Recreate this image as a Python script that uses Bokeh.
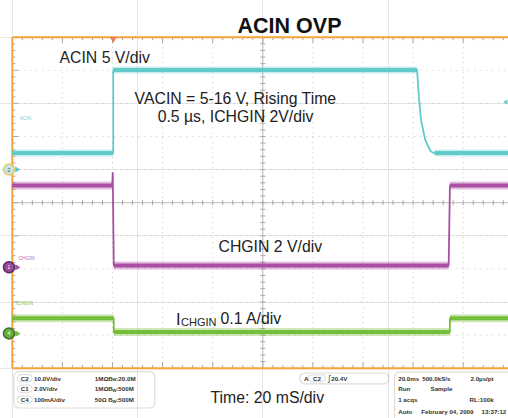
import numpy as np
from bokeh.plotting import figure
from bokeh.models import Range1d, Label, BoxAnnotation, ColumnDataSource
from bokeh.core.properties import value
from bokeh.embed import file_html
from bokeh.resources import INLINE

# ---------------- data ----------------
TIME_PER_DIV = 20.0          # ms / div
TRIGGER_TIME = [40.3]        # ms
TRIGGER_LEVEL = [20.4]       # V on C2 (ACIN)

# C2 : ACIN, 10 V/div, ground marker 6.0 div above graticule bottom
ACIN_SCALE = 10.0
ACIN_GROUND = 6.0
ACIN_T = [0.0, 40.3, 40.3, 161.6, 162.3, 163.2, 164.9, 166.9, 167.7, 168.6, 199.5]
ACIN_V = [5.0, 5.0, 30.1, 30.1, 21.9, 14.8, 8.8, 5.7, 5.2, 5.0, 5.0]

# C1 : CHGIN, 2 V/div
CHGIN_SCALE = 2.0
CHGIN_GROUND = 3.05
CHGIN_T = [0.0, 39.9, 40.1, 40.5, 174.2, 174.7, 199.5]
CHGIN_V = [4.94, 4.94, 5.74, 0.10, 0.10, 4.94, 4.94]

# C4 : ICHGIN, 100 mA/div
ICHGIN_SCALE = 0.1
ICHGIN_GROUND = 1.05
ICHGIN_T = [0.0, 40.5, 40.5, 174.7, 174.7, 199.5]
ICHGIN_A = [0.046, 0.046, 0.004, 0.004, 0.046, 0.046]

CH_NAMES = ["C2", "C1", "C4"]
CH_SCALES = ["10.0V/div", "2.0V/div", "100mA/div"]
CH_IMPEDANCE = ["1M\u03a9", "1M\u03a9", "50\u03a9"]
CH_BW = [":20.0M", ":500M", ":500M"]
TRIG_TEXT = "20.4V"
ACQ_TEXT = ["20.0ms", "500.0kS/s", "2.0\u00b5s/pt", "Run", "Sample", "1 acqs",
            "RL:100k", "Auto", "February 04, 2009", "13:37:12"]

# ---------------- layout ----------------
W, H = 508, 418
OX, OY = 0, 0              # page position of the canvas
GX, GB = 11.8, 367.7       # page px of graticule left / bottom
DX, DY = 50.1, 33.1        # px per division
X0 = (OX - GX) / DX * TIME_PER_DIV
X1 = X0 + W / DX * TIME_PER_DIV
Y1 = (GB - OY) / DY
Y0 = Y1 - H / DY


def tx(px):
    return (px - GX) / DX * TIME_PER_DIV


def ty(py):
    return (GB - py) / DY


CYAN = "#62caca"
MAGENTA = "#aa4ea2"
GREEN = "#74be3a"
ORANGE = "#f5a43c"
TICK = "#a8a8a8"
FONT = "Liberation Sans"

p = figure(width=W, height=H, x_range=Range1d(X0, X1), y_range=Range1d(Y0, Y1),
           min_border=0, toolbar_location=None, output_backend="svg",
           x_axis_location=None, y_axis_location=None)
p.outline_line_color = None
p.background_fill_color = "white"
p.border_fill_color = "white"


def chan_range(gnd, scale):
    return Range1d((Y0 - gnd) * scale, (Y1 - gnd) * scale)


p.extra_y_ranges = {
    "acin": chan_range(ACIN_GROUND, ACIN_SCALE),
    "chgin": chan_range(CHGIN_GROUND, CHGIN_SCALE),
    "ichgin": chan_range(ICHGIN_GROUND, ICHGIN_SCALE),
}

# ---------------- graticule ----------------
NDX, NDY = 10, 10
kx = [k for k in range(1, NDX) if k != 5]
ky = [k for k in range(1, NDY) if k != 5]
p.segment(x0=[k * TIME_PER_DIV for k in kx], y0=[0] * len(kx),
          x1=[k * TIME_PER_DIV for k in kx], y1=[NDY] * len(kx),
          line_color="#c6c6c6", line_width=1, line_dash="1 4")
p.segment(x0=[0] * len(ky), y0=ky, x1=[NDX * TIME_PER_DIV] * len(ky), y1=ky,
          line_color="#c6c6c6", line_width=1, line_dash="1 5")
# centre cross
p.segment(x0=[5 * TIME_PER_DIV, 0], y0=[0, 5], x1=[5 * TIME_PER_DIV, NDX * TIME_PER_DIV],
          y1=[NDY, 5], line_color="#bcbcbc", line_width=1)
minor_y = np.round(np.arange(1, NDY * 5) * 0.2, 3)
minor_x = np.arange(1, NDX * 5) * TIME_PER_DIV / 5
hx = 2.5 / DX * TIME_PER_DIV
hy = 2.5 / DY
p.segment(x0=5 * TIME_PER_DIV - hx, y0=minor_y, x1=5 * TIME_PER_DIV + hx, y1=minor_y,
          line_color=TICK, line_width=1)
p.segment(x0=minor_x, y0=5 - hy, x1=minor_x, y1=5 + hy, line_color=TICK, line_width=1)
# border ticks
is_major_y = np.isclose(minor_y % 1, 0)
len_y = np.where(is_major_y, 6, 3) / DX * TIME_PER_DIV
p.segment(x0=0, y0=minor_y, x1=len_y, y1=minor_y, line_color=TICK, line_width=1)
is_major_x = np.isclose((minor_x / TIME_PER_DIV) % 1, 0)
len_x = np.where(is_major_x, 6, 3) / DY
p.segment(x0=minor_x, y0=NDY, x1=minor_x, y1=NDY - len_x, line_color=TICK, line_width=1)
p.segment(x0=minor_x, y0=0, x1=minor_x, y1=len_x, line_color=TICK, line_width=1)
# orange frame (left, top, bottom)
p.segment(x0=[0, 0, 0], y0=[0, NDY, 0], x1=[0, X1, X1], y1=[NDY, NDY, 0],
          line_color=ORANGE, line_width=2)


# ---------------- traces ----------------
def draw_trace(t, v, rname, scale, color, fringe_px=8, core_px=4):
    t = np.asarray(t, float)
    v = np.asarray(v, float)
    flat = np.isclose(v[:-1], v[1:])
    left, right, mid = t[:-1][flat], t[1:][flat], v[:-1][flat]
    hf = fringe_px / 2 / DY * scale
    hc = core_px / 2 / DY * scale
    p.quad(left=left, right=right, bottom=mid - hf, top=mid + hf, fill_color=color,
           fill_alpha=0.35, line_color=None, y_range_name=rname)
    p.line(t, v, line_color=color, line_width=1.8, y_range_name=rname)
    p.quad(left=left, right=right, bottom=mid - hc, top=mid + hc, fill_color=color,
           fill_alpha=1.0, line_color=None, y_range_name=rname)


draw_trace(ACIN_T, ACIN_V, "acin", ACIN_SCALE, CYAN, fringe_px=7, core_px=4)
draw_trace(CHGIN_T, CHGIN_V, "chgin", CHGIN_SCALE, MAGENTA, fringe_px=8, core_px=4)
draw_trace(ICHGIN_T, ICHGIN_A, "ichgin", ICHGIN_SCALE, GREEN, fringe_px=8, core_px=4)

# trigger markers
p.scatter(x=TRIGGER_TIME, y=[ty(38.5)], marker="inverted_triangle", size=7,
          fill_color="#f07a5a", line_color=None)
p.scatter(x=[tx(505.5)], y=TRIGGER_LEVEL, marker="triangle", angle=np.pi / 2, size=5,
          fill_color=CYAN, line_color=None, y_range_name="acin")

# ground markers
for rname, fill, ring, num, col in [("acin", "#c4e6e6", "#e8c860", "2", CYAN),
                                     ("chgin", "#9c4a9a", "#5a2a5a", "1", MAGENTA),
                                     ("ichgin", "#66b03c", "#3c6a2a", "4", GREEN)]:
    p.scatter(x=[tx(16.5)], y=[0], marker="triangle", angle=-np.pi / 2, size=6,
              fill_color=col, line_color=None, y_range_name=rname)
    p.scatter(x=[tx(8.5)], y=[0], marker="circle", size=11, fill_color=fill,
              line_color=ring, line_width=1.5, y_range_name=rname)
    p.text(x=[tx(8.5)], y=[0], text=[num], text_font=value(FONT), text_font_size="5px",
           text_align="center", text_baseline="middle",
           text_color="#555" if num == "2" else "white", y_range_name=rname)

# channel names
for txt, px, py, col in [("ACIN", 19, 117, "#7fcfd0"), ("CHGIN", 18, 257, "#b070b0"),
                         ("ICHGIN", 15, 302, "#80c050")]:
    p.add_layout(Label(x=tx(px), y=ty(py), text=txt, text_font=FONT, text_font_size="5px",
                       text_color=col, text_baseline="middle"))

# ---------------- annotations ----------------
def label(txt, px, py, size, align="left", bold=False, color="#222222"):
    p.add_layout(Label(x=tx(px), y=ty(py), text=txt, text_font=FONT,
                       text_font_size=f"{size}px", text_align=align,
                       text_baseline="alphabetic", text_color=color,
                       text_font_style="bold" if bold else "normal"))


label("ACIN OVP", 289, 25, 21.5, align="center", bold=True, color="#111111")
label("ACIN 5 V/div", 59, 56.5, 15.8)
label("VACIN = 5-16 V, Rising Time", 235, 98.3, 15.8, align="center")
label("0.5 \u00b5s, ICHGIN 2V/div", 235, 116, 15.8, align="center")
label("CHGIN 2 V/div", 218, 246, 15.8)
label("I", 175.5, 318.8, 16.5)
label("CHGIN", 180.5, 321.7, 11)
label("0.1 A/div", 220, 317.7, 15.8)
label("Time: 20 mS/div", 210, 397, 15.8)

# ---------------- info boxes ----------------
BOX = "#9c8a80"


def box(l, r, t, b, radius=5, color=BOX, width=1.2):
    p.add_layout(BoxAnnotation(left=tx(l), right=tx(r), top=ty(t), bottom=ty(b),
                               fill_alpha=0, line_color=color, line_width=width,
                               border_radius=int(radius)))


box(13.3, 154.3, 371.2, 407.5)
box(299.3, 388.3, 372.5, 383.3)
box(394, 530, 371.7, 440)

SMALL = "6.2px"
rows_y = [377.7, 388.3, 399.0]
sx, sy, st = [], [], []
for i, yy in enumerate(rows_y):
    box(16.7, 31.7, yy - 3.6, yy + 3.6, radius=4, color="#7a7a7a", width=0.9)
    sx += [tx(24.2), tx(33.5), tx(94.3), tx(107.8)]
    sy += [ty(yy)] * 4
    st += [CH_NAMES[i], CH_SCALES[i], CH_IMPEDANCE[i], "B"]
box(307.7, 325, 374.3, 381.3, radius=4, color="#7a7a7a", width=0.9)
sx += [tx(303.5), tx(316.4), tx(330.7)]
sy += [ty(377.8)] * 3
st += ["A", CH_NAMES[0], TRIG_TEXT]
acq_xy = [(397.7, 378.3), (421.7, 378.3), (470, 378.3), (397.7, 388.3), (430, 388.3),
          (397.7, 399.3), (469, 399.3), (397.7, 410.7), (420.7, 410.7), (481, 410.7)]
for (ax, ay), t in zip(acq_xy, ACQ_TEXT):
    sx.append(tx(ax))
    sy.append(ty(ay))
    st.append(t)
aligns = ["center" if t in CH_NAMES else "left" for t in st]
small = ColumnDataSource(dict(x=sx, y=sy, text=st, align=aligns))
p.text(x="x", y="y", text="text", source=small, text_font=value(FONT),
       text_font_size=SMALL, text_font_style="bold", text_color="#333333",
       text_baseline="middle", text_align="align")
# BW subscript + values
p.text(x=[tx(112.0)] * 3, y=[ty(yy + 1.5) for yy in rows_y], text=["W"] * 3,
       text_font=value(FONT), text_font_size="4.2px", text_font_style="bold",
       text_color="#333333", text_baseline="middle")
p.text(x=[tx(115.8)] * 3, y=[ty(yy) for yy in rows_y], text=CH_BW,
       text_font=value(FONT), text_font_size=SMALL, text_font_style="bold",
       text_color="#333333", text_baseline="middle")
# trigger slope symbol
p.text(x=[tx(326.5)], y=[ty(378)], text=["\u222b"], text_font=value("DejaVu Sans"),
       text_font_size="8px", text_color="#333333", text_baseline="middle")

open("out.html", "w").write(file_html(p, INLINE))
